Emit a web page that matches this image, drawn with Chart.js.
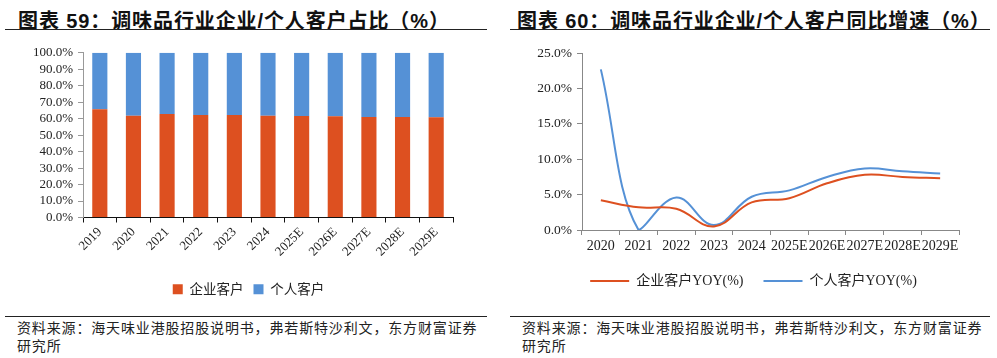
<!DOCTYPE html>
<html><head><meta charset="utf-8">
<script src="https://cdn.jsdelivr.net/npm/chart.js@4.4.1/dist/chart.umd.min.js"></script>
<style>
body{margin:0;width:997px;height:358px;background:#fff;position:relative;overflow:hidden;font-family:"Liberation Serif","Noto Sans CJK SC",serif;}
.title{position:absolute;top:5px;font-family:"Liberation Sans","Noto Sans CJK SC",sans-serif;font-weight:bold;font-size:20px;letter-spacing:0.9px;color:#111;white-space:nowrap;}
.rule{position:absolute;height:1px;background:#222;}
.src{position:absolute;font-size:14px;line-height:18px;color:#222;font-family:"Noto Sans CJK SC",sans-serif;letter-spacing:0.85px;}
.box{position:absolute;}
</style></head>
<body>
<div class="title" style="left:18px;">图表 59：调味品行业企业/个人客户占比（%）</div>
<div class="rule" style="left:5px;width:482px;top:29px;"></div>
<div class="title" style="left:517px;">图表 60：调味品行业企业/个人客户同比增速（%）</div>
<div class="rule" style="left:510px;width:480px;top:29px;"></div>
<div class="box" style="left:0;top:40px;"><canvas id="c1" width="497" height="275"></canvas></div>
<div class="box" style="left:500px;top:40px;"><canvas id="c2" width="497" height="258"></canvas></div>
<div class="rule" style="left:5px;width:482px;top:316px;"></div>
<div class="rule" style="left:510px;width:480px;top:316px;"></div>
<div class="src" style="left:17px;top:318px;">资料来源：海天味业港股招股说明书，弗若斯特沙利文，东方财富证券<br>研究所</div>
<div class="src" style="left:522px;top:318px;">资料来源：海天味业港股招股说明书，弗若斯特沙利文，东方财富证券<br>研究所</div>
<script>
const shareYears = ["2019","2020","2021","2022","2023","2024","2025E","2026E","2027E","2028E","2029E"];
const enterpriseShare = [65.7,61.8,62.8,62.2,62.2,61.8,61.6,61.4,61.0,61.0,60.8];
const personalShare = [34.3,38.2,37.2,37.8,37.8,38.2,38.4,38.6,39.0,39.0,39.2];
const growthYears = ["2020","2021","2022","2023","2024","2025E","2026E","2027E","2028E","2029E"];
const enterpriseYoY = [4.2,3.2,3.0,0.5,3.9,4.5,6.6,7.8,7.5,7.3];
const personalYoY = [22.7,0.0,4.6,0.7,4.7,5.6,7.5,8.7,8.3,8.0];

const RED = "#DD5020", BLUE = "#5591D6";
const serif = "'Liberation Serif','Noto Sans CJK SC',serif";
Chart.defaults.font.family = serif;
Chart.defaults.color = "#222";
Chart.defaults.animation = false;

const spacer = w => ({ position: "right", display: true, grid: { display: false }, border: { display: false }, ticks: { display: false }, afterFit: s => { s.width = w; } });

new Chart(document.getElementById("c1"), {
  type: "bar",
  data: { labels: shareYears, datasets: [
    { label: "企业客户", data: enterpriseShare, backgroundColor: RED, barPercentage: 0.45, categoryPercentage: 1 },
    { label: "个人客户", data: personalShare, backgroundColor: BLUE, barPercentage: 0.45, categoryPercentage: 1 }
  ]},
  options: {
    responsive: false,
    layout: { padding: { top: 12, right: 0, left: 0, bottom: 9 } },
    plugins: {
      tooltip: { enabled: false },
      legend: { position: "bottom", labels: { boxWidth: 10, boxHeight: 10, padding: 10, font: { size: 13.5, family: "'Noto Sans CJK SC',sans-serif" }, color: "#222" } }
    },
    scales: {
      x: { stacked: true, offset: true,
        grid: { offset: true, drawOnChartArea: false, drawTicks: true, tickLength: 5, color: "#111" },
        border: { color: "#111", width: 1 },
        ticks: { minRotation: 45, maxRotation: 45, autoSkip: false, font: { size: 13 }, padding: 2 },
        afterFit: s => { s.height = 55; } },
      y: { stacked: true, min: 0, max: 100,
        grid: { drawOnChartArea: false, tickLength: 5, color: "#999" },
        border: { color: "#999", width: 1 },
        ticks: { stepSize: 10, autoSkip: false, font: { size: 13 }, padding: 5, callback: v => v.toFixed(1) + "%" },
        afterFit: s => { s.width = 83; } },
      pad: spacer(44)
    }
  }
});

const lineLegendLabels = chart => Chart.defaults.plugins.legend.labels.generateLabels(chart).map(l => Object.assign(l, { lineWidth: 0 }));

new Chart(document.getElementById("c2"), {
  type: "line",
  data: { labels: growthYears, datasets: [
    { label: "企业客户YOY(%)", data: enterpriseYoY, borderColor: RED, backgroundColor: RED, borderWidth: 2, pointRadius: 0, tension: 0.4 },
    { label: "个人客户YOY(%)", data: personalYoY, borderColor: BLUE, backgroundColor: BLUE, borderWidth: 2, pointRadius: 0, tension: 0.4 }
  ]},
  options: {
    responsive: false,
    layout: { padding: { top: 12, right: 0, left: 10, bottom: 0 } },
    plugins: {
      tooltip: { enabled: false },
      legend: { position: "bottom", labels: { boxWidth: 39, boxHeight: 2, padding: 20, font: { size: 14 }, color: "#222", generateLabels: lineLegendLabels } }
    },
    scales: {
      x: { offset: true,
        grid: { offset: true, drawOnChartArea: false, tickLength: 5, color: "#888" },
        border: { color: "#888", width: 1 },
        ticks: { maxRotation: 0, minRotation: 0, autoSkip: false, font: { size: 14 }, padding: 3 },
        afterFit: s => { s.height = 24; } },
      y: { min: 0, max: 25,
        grid: { drawOnChartArea: false, tickLength: 5, color: "#888" },
        border: { color: "#888", width: 1 },
        ticks: { stepSize: 5, font: { size: 13.5 }, padding: 5, callback: v => v.toFixed(1) + "%" },
        afterFit: s => { s.width = 72; } },
      pad: spacer(38)
    }
  }
});
</script>
</body></html>
